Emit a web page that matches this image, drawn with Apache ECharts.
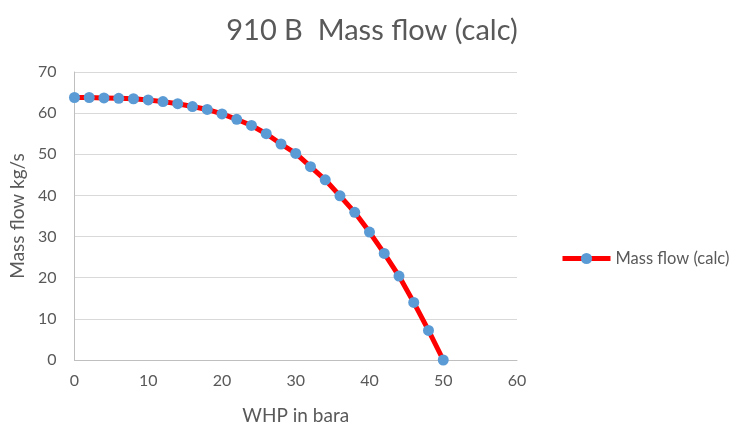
<!DOCTYPE html>
<html><head><meta charset="utf-8">
<script src="https://cdn.jsdelivr.net/npm/echarts@6/dist/echarts.min.js"></script>
<style>html,body{margin:0;padding:0;background:#fff}#c{width:746px;height:430px}</style>
</head><body><div id="c"></div>
<script>
const titleText = '910 B  Mass flow (calc)';
const seriesName = 'Mass flow (calc)';
const xName = 'WHP in bara';
const yName = 'Mass flow kg/s';
const whp = [0,2,4,6,8,10,12,14,16,18,20,22,24,26,28,30,32,34,36,38,40,42,44,46,48,50];
const massFlow = [63.8,63.8,63.7,63.6,63.5,63.2,62.8,62.3,61.6,60.9,59.8,58.5,57.0,55.0,52.5,50.2,47.0,43.8,39.9,35.9,31.1,25.9,20.4,14.0,7.2,0];
const data = whp.map((x,i)=>[x, massFlow[i]]);
const font = 'Lato, "Open Sans", sans-serif';
const chart = echarts.init(document.getElementById('c'));
chart.setOption({
  animation:false,
  textStyle:{fontFamily:font},
  title:{text:titleText,left:367,top:11,textAlign:'center',textStyle:{fontFamily:font,fontSize:29,fontWeight:'normal',color:'#595959'}},
  grid:{left:74,right:229,top:72,bottom:68},
  legend:{data:[seriesName],left:555,top:245,itemWidth:48,itemHeight:14,itemGap:6,
    lineStyle:{width:5},
    textStyle:{fontFamily:font,fontSize:16.5,color:'#595959'}},
  xAxis:{type:'value',min:0,max:60,interval:10,name:xName,nameLocation:'middle',nameGap:46,
    nameTextStyle:{fontFamily:font,fontSize:19,color:'#595959'},
    axisLine:{show:true,lineStyle:{color:'#bfbfbf'}},axisTick:{show:false},
    axisLabel:{fontFamily:font,fontSize:16,color:'#595959',margin:13},
    splitLine:{show:false}},
  yAxis:{type:'value',min:0,max:70,interval:10,name:yName,nameLocation:'middle',nameGap:46,
    nameTextStyle:{fontFamily:font,fontSize:19,color:'#595959'},
    axisLine:{show:true,lineStyle:{color:'#bfbfbf'}},axisTick:{show:false},
    axisLabel:{fontFamily:font,fontSize:16,color:'#595959',margin:18},
    splitLine:{show:true,lineStyle:{color:'#d9d9d9'}}},
  series:[{name:seriesName,type:'line',data:data,symbol:'circle',symbolSize:11,
    lineStyle:{color:'#ff0000',width:5},itemStyle:{color:'#5b9bd5'},
    emphasis:{disabled:true}}]
});
</script></body></html>
